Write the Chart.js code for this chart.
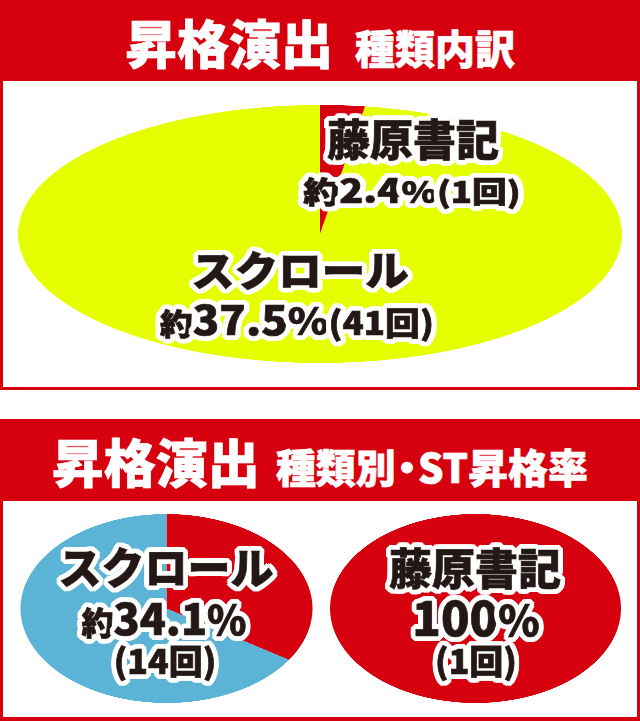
<!DOCTYPE html>
<html lang="ja">
<head>
<meta charset="utf-8">
<title>昇格演出 種類内訳</title>
<script src="https://cdn.jsdelivr.net/npm/chart.js@4.4.1/dist/chart.umd.min.js"></script>
<style>
  html, body { margin: 0; padding: 0; background: #fff; }
  body {
    width: 640px; height: 721px; position: relative; overflow: hidden;
    font-family: "Noto Sans CJK JP", "Noto Sans", sans-serif; font-weight: 900;
  }
  .head {
    position: absolute; left: 0; width: 640px; background: #d7000f;
  }
  .head .txt {
    position: absolute; left: 0; width: 640px; text-align: center;
    color: #fff; white-space: nowrap; line-height: 1; font-size: 52px;
    -webkit-text-stroke: 0.7px #fff;
  }
  .head .dot { margin: 0 -9px; }
  .box {
    position: absolute; left: 0; width: 640px; box-sizing: border-box;
    border: 3px solid #d7000f; border-top: none;
  }
  .pie { position: absolute; }
  .pie canvas { display: block; }
  .lbl {
    position: absolute; white-space: nowrap; line-height: 1; color: #231815;
    -webkit-text-stroke: 0.7px #231815;
    text-shadow:
      5px 0 0 #fff, -5px 0 0 #fff, 0 5px 0 #fff, 0 -5px 0 #fff,
      4px 3px 0 #fff, -4px 3px 0 #fff, 4px -3px 0 #fff, -4px -3px 0 #fff,
      3px 4px 0 #fff, -3px 4px 0 #fff, 3px -4px 0 #fff, -3px -4px 0 #fff,
      5px 2px 0 #fff, -5px 2px 0 #fff, 5px -2px 0 #fff, -5px -2px 0 #fff,
      2px 5px 0 #fff, -2px 5px 0 #fff, 2px -5px 0 #fff, -2px -5px 0 #fff;
  }
</style>
</head>
<body>

<div class="head" style="top:0;height:81px;">
  <div class="txt" style="top:16px;">昇格演出<span style="font-size:40px;margin-left:22px;">種類内訳</span></div>
</div>
<div class="box" style="top:81px;height:309px;"></div>

<div class="head" style="top:419px;height:82px;">
  <div class="txt" style="top:16px;">昇格演出<span style="font-size:40px;margin-left:16px;">種類別<span class="dot">・</span>ST昇格率</span></div>
</div>
<div class="box" style="top:501px;height:220px;border-bottom-width:4px;"></div>

<div class="pie" id="wrapKind"><canvas id="pieKind"></canvas></div>
<div class="pie" id="wrapScroll"><canvas id="pieScroll"></canvas></div>
<div class="pie" id="wrapFuji"><canvas id="pieFuji"></canvas></div>

<script>
// 種類内訳 (回数)
const kindLabels = ['藤原書記', 'スクロール'];
const kindCounts = [1, 41];
const kindShares = ['2.4', '37.5'];

// 種類別・ST昇格率
const stLabels = ['スクロール', '藤原書記'];
const scrollSplit = [14, 27];   // ST昇格 / 昇格なし
const fujiSplit = [1, 0];
const stRates = ['34.1', '100'];
const stCounts = [14, 1];

const RED = '#d7000f';
const LIME = '#e5ff00';
const BLUE = '#5bb3d6';

// 楕円に見せるため、正方形のキャンバスを横に引き伸ばす
function makePie(wrapId, canvasId, data, colors, cx, cy, rx, ry) {
    const size = Math.round(ry * 2);
    const wrap = document.getElementById(wrapId);
    const canvas = document.getElementById(canvasId);
    canvas.width = size;
    canvas.height = size;
    wrap.style.left = (cx - size / 2) + 'px';
    wrap.style.top = (cy - size / 2) + 'px';
    wrap.style.width = size + 'px';
    wrap.style.height = size + 'px';
    wrap.style.transformOrigin = '50% 50%';
    wrap.style.transform = 'scaleX(' + (rx / ry) + ')';

    return new Chart(canvas, {
        type: 'pie',
        data: { datasets: [{ data: data, backgroundColor: colors, borderWidth: 0 }] },
        options: {
            responsive: false,
            animation: false,
            devicePixelRatio: 3,
            events: [],
            layout: { padding: 0 },
            plugins: { legend: { display: false }, tooltip: { enabled: false } }
        }
    });
}

makePie('wrapKind', 'pieKind', kindCounts, [RED, LIME], 320, 234, 302, 129);
makePie('wrapScroll', 'pieScroll', scrollSplit, [RED, BLUE], 166, 608.5, 146, 94.5);
makePie('wrapFuji', 'pieFuji', fujiSplit, [RED, RED], 475.5, 608.5, 145.5, 94.5);

// ラベル: parts = [[文字, px], ...]
function label(parts, cx, top, stretch) {
    const el = document.createElement('div');
    el.className = 'lbl';
    const maxSize = Math.max.apply(null, parts.map(p => p[1]));
    el.style.fontSize = maxSize + 'px';
    parts.forEach(p => {
        const s = document.createElement('span');
        s.textContent = p[0];
        s.style.fontSize = p[1] + 'px';
        el.appendChild(s);
    });
    el.style.left = cx + 'px';
    el.style.top = top + 'px';
    el.style.transform = 'translateX(-50%) scaleX(' + (stretch || 1) + ')';
    document.body.appendChild(el);
}

// 上段
label([[kindLabels[0], 43]], 413, 116);
label([['約', 30], [kindShares[0], 33], ['%', 30], ['(' + kindCounts[0] + '回)', 29]], 412, 173, 1.2);
label([[kindLabels[1], 41]], 300, 248, 1.06);
label([['約', 30], [kindShares[1], 40], ['%', 38], ['(' + kindCounts[1] + '回)', 32]], 297, 298, 1.09);

// 下段
label([[stLabels[0], 43]], 166, 544);
label([['約', 32], [stRates[0], 43], ['%', 40]], 164, 595);
label([['(' + stCounts[0] + '回)', 34]], 165, 643);
label([[stLabels[1], 43]], 475, 545);
label([[stRates[1], 47], ['%', 42]], 476, 592);
label([['(' + stCounts[1] + '回)', 34]], 476, 643);
</script>
</body>
</html>
